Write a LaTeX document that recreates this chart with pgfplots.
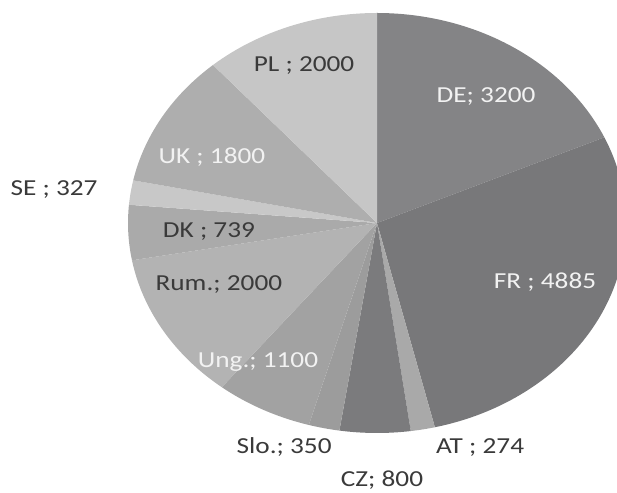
\documentclass[border=0pt]{standalone}
\usepackage{pgfplots}
\pgfplotsset{compat=1.18}
\usepackage{pgfplotstable}
\usepackage{fontspec}
\setmainfont{Carlito}

% slice values (clockwise from 12 o'clock), fill colour, text colour, label position
\pgfplotstableread[col sep=comma]{
name,value,fill,txt,lx,ly
DE; 3200,3200,848486,F2F2F2,0.438,0.600
FR ; 4885,4885,78787A,F2F2F2,0.675,-0.281
AT ; 274,274,A9A9A9,3A3A3A,0.414,-1.067
CZ; 800,800,7B7B7D,3A3A3A,0.020,-1.224
Slo.; 350,350,9C9C9C,3A3A3A,-0.373,-1.067
Ung.; 1100,1100,A2A2A2,F2F2F2,-0.478,-0.662
Rum.; 2000,2000,B3B3B3,3A3A3A,-0.635,-0.295
DK ; 739,739,AAAAAA,3A3A3A,-0.675,-0.043
SE ; 327,327,C8C8C8,3A3A3A,-1.297,0.157
UK ; 1800,1800,AEAEAE,F2F2F2,-0.663,0.314
PL ; 2000,2000,C6C6C6,3A3A3A,-0.293,0.748
}\piedata

\begin{document}
\begin{tikzpicture}
\begin{axis}[
  x=249bp, y=210bp,
  xmin=-1.51406, xmax=0.96386,
  ymin=-1.28571, ymax=1.06190,
  hide axis, clip=true,
]
\path (rel axis cs:0,0) rectangle (rel axis cs:1,1);
% total (in thousands, to stay within TeX's number range)
\def\total{0}
\pgfplotsforeachungrouped \i in {0,...,10}{%
  \pgfplotstablegetelem{\i}{value}\of\piedata
  \pgfmathsetmacro\total{\total+\pgfplotsretval/1000}%
}
\def\cum{0}
\pgfplotsforeachungrouped \i in {0,...,10}{%
  \pgfplotstablegetelem{\i}{value}\of\piedata
  \let\val\pgfplotsretval
  \pgfplotstablegetelem{\i}{fill}\of\piedata
  \edef\tmp{\noexpand\definecolor{slice\i}{HTML}{\pgfplotsretval}}\tmp
  \pgfmathsetmacro\aone{90-360*\cum/\total}%
  \pgfmathsetmacro\newcum{\cum+\val/1000}%
  \pgfmathsetmacro\atwo{90-360*\newcum/\total}%
  \pgfmathsetmacro\sx{cos(\aone)}%
  \pgfmathsetmacro\sy{sin(\aone)}%
  \edef\tmp{\noexpand\fill[slice\i] (axis cs:0,0) -- (axis cs:\sx,\sy)
     arc[start angle=\aone, end angle=\atwo, x radius=249bp, y radius=210bp] -- cycle;}\tmp
  \global\let\cum\newcum
}
% labels
\pgfplotsforeachungrouped \i in {0,...,10}{%
  \pgfplotstablegetelem{\i}{txt}\of\piedata
  \edef\tmp{\noexpand\definecolor{label\i}{HTML}{\pgfplotsretval}}\tmp
  \pgfplotstablegetelem{\i}{lx}\of\piedata \let\lx\pgfplotsretval
  \pgfplotstablegetelem{\i}{ly}\of\piedata \let\ly\pgfplotsretval
  \pgfplotstablegetelem{\i}{name}\of\piedata \let\nm\pgfplotsretval
  \edef\tmp{\noexpand\node[text=label\i, inner sep=0pt, xscale=1.19,
     font=\noexpand\fontsize{23}{27}\noexpand\selectfont] at (axis cs:\lx,\ly) {\nm};}\tmp
}
\end{axis}
\end{tikzpicture}
\end{document}
